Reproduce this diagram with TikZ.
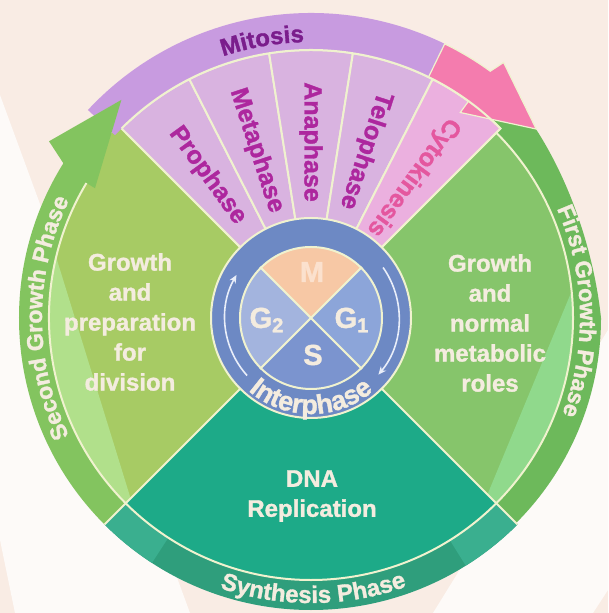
\documentclass[tikz,border=0pt]{standalone}
\usepackage{fontspec}
\setmainfont{Liberation Sans}[BoldFeatures={FakeBold=1.3}]
\usepackage{xcolor}
\usetikzlibrary{decorations.text,arrows.meta}

\definecolor{bgcream}{HTML}{F9ECE4}
\definecolor{bgwhite}{HTML}{FDFAF8}
\definecolor{linecream}{HTML}{F0F2CF}
\definecolor{textcream}{HTML}{F4ECDF}
\definecolor{ringleft}{HTML}{83C45F}
\definecolor{ringright}{HTML}{6DB95B}
\definecolor{synband}{HTML}{2F9E7C}
\definecolor{synlight}{HTML}{3AAF8F}
\definecolor{gtwosec}{HTML}{A7CB64}
\definecolor{gtwolight}{HTML}{B1E08B}
\definecolor{gonesec}{HTML}{86C56B}
\definecolor{gonelight}{HTML}{90D98C}
\definecolor{ssec}{HTML}{1DAA88}
\definecolor{mitband}{HTML}{C89BE0}
\definecolor{mitotext}{HTML}{7A1D8C}
\definecolor{wedgefill}{HTML}{D9B3E0}
\definecolor{cytofill}{HTML}{EBB0DF}
\definecolor{phasetxt}{HTML}{AD279E}
\definecolor{cytotxt}{HTML}{E4579F}
\definecolor{pinkarrow}{HTML}{F47CAE}
\definecolor{interring}{HTML}{6D89C4}
\definecolor{interarrow}{HTML}{E9EEF9}
\definecolor{mfill}{HTML}{F7C8A5}
\definecolor{gonefill}{HTML}{8CA5D9}
\definecolor{gtwofill}{HTML}{A3B4DE}
\definecolor{sfill}{HTML}{7B94CF}

\tikzset{
  sepline/.style={draw=linecream,line width=1pt},
  growtext/.style={text=textcream,align=center,font=\bfseries\fontsize{12}{15}\selectfont},
  phasetext/.style={text=phasetxt,font=\bfseries\fontsize{12.5}{15}\selectfont},
  letter/.style={text=textcream,font=\bfseries\fontsize{14.5}{16}\selectfont},
  cyclearrow/.style={draw=interarrow,line width=0.8pt,-{Stealth[length=4pt,width=3.5pt]}}
}

\begin{document}
\begin{tikzpicture}[x=0.5pt,y=0.5pt]
  \useasboundingbox (-311,-295) rectangle (297,318);
  \fill[bgcream] (-311,-295) rectangle (297,318);
  \fill[bgwhite] (-311,223) -- (-121,-295) -- (-296,-295) -- (-311,-222) -- cycle;
  \fill[bgwhite] (122,-295) -- (297,-12) -- (297,-272) -- (282,-295) -- cycle;

  % the three big sectors
  \fill[gtwosec] (0,0) -- (135:272) arc[start angle=135,end angle=225,radius=272] -- cycle;
  \fill[gonesec] (0,0) -- (-45:262) arc[start angle=-45,end angle=45,radius=262] -- cycle;
  \fill[ssec] (0,0) -- (225:262) arc[start angle=225,end angle=315,radius=262] -- cycle;
  \begin{scope}
    \clip (0,0) -- (135:262) arc[start angle=135,end angle=225,radius=262] -- cycle;
    \fill[gtwolight] (-287,165) -- (-145,-295) -- (-400,-295) -- (-400,165) -- cycle;
  \end{scope}
  \begin{scope}
    \clip (0,0) -- (-45:262) arc[start angle=-45,end angle=45,radius=262] -- cycle;
    \fill[gonelight] (291,100) -- (141,-262) -- (400,-262) -- (400,100) -- cycle;
  \end{scope}

  % outer ring
  \fill[synband] (225:262) arc[start angle=225,end angle=315,radius=262]
    -- (315:292) arc[start angle=315,end angle=225,radius=292] -- cycle;
  \fill[synlight] (225:262) arc[start angle=225,end angle=237,radius=262]
    -- (237:292) arc[start angle=237,end angle=225,radius=292] -- cycle;
  \fill[synlight] (302:262) arc[start angle=302,end angle=315,radius=262]
    -- (315:292) arc[start angle=315,end angle=302,radius=292] -- cycle;
  \fill[ringright] (-45:262) arc[start angle=-45,end angle=52,radius=262]
    -- (52:302) .. controls (35:304) and (15:292) .. (0:290)
    arc[start angle=0,end angle=-45,radius=290] -- cycle;

  % mitosis fan
  \foreach \a/\col in {117/wedgefill,99/wedgefill,81/wedgefill,63/wedgefill,45/cytofill}{
    \filldraw[fill=\col,sepline] (0,0) -- (\a:268) arc[start angle=\a,end angle=\a+18,radius=268] -- cycle;
  }
  \fill[mitband] (137:268) arc[start angle=137,end angle=64,radius=268]
    -- (64:305) arc[start angle=64,end angle=137,radius=305] -- cycle;
  \filldraw[fill=pinkarrow,draw=linecream,line width=0.6pt] (64:268) arc[start angle=64,end angle=54,radius=268]
    -- (54:254) -- (40:294) -- (53:320) -- (54:305)
    arc[start angle=54,end angle=64,radius=305] -- cycle;
  \draw[sepline] (45:268) arc[start angle=45,end angle=135,radius=268];

  % second growth arrow
  \fill[ringleft] (225:262) arc[start angle=225,end angle=149,radius=262]
    -- (149:252) -- (131:289) -- (146:316) -- (148:292)
    arc[start angle=148,end angle=225,radius=292] -- cycle;

  % separating lines
  \draw[sepline] (-45:262) arc[start angle=-45,end angle=45,radius=262];
  \draw[sepline] (149:262) arc[start angle=149,end angle=315,radius=262];
  \foreach \a/\r in {45/268,135/262,225/292,315/292}{
    \draw[sepline] (0,0) -- (\a:\r);
  }

  % interphase disc
  \filldraw[fill=interring,sepline] (0,0) circle (100);
  \filldraw[fill=mfill,sepline] (0,0) -- (45:71) arc[start angle=45,end angle=135,radius=71] -- cycle;
  \filldraw[fill=gtwofill,sepline] (0,0) -- (135:71) arc[start angle=135,end angle=225,radius=71] -- cycle;
  \filldraw[fill=sfill,sepline] (0,0) -- (225:71) arc[start angle=225,end angle=315,radius=71] -- cycle;
  \filldraw[fill=gonefill,sepline] (0,0) -- (-45:71) arc[start angle=-45,end angle=45,radius=71] -- cycle;
  \draw[cyclearrow] (222:86) arc[start angle=222,end angle=150,radius=86];
  \draw[cyclearrow] (35:88) arc[start angle=35,end angle=-40,radius=88];

  \node[letter,text=mfill!55!white] (mlet) at (1,46) {M};
  \node[letter] (gtwolet) at (-44,-2) {G\textsubscript{2}};
  \node[letter] (gonelet) at (41,-2) {G\textsubscript{1}};
  \node[letter] (slet) at (2,-37) {S};

  % texts
  \node[growtext] (gtwotxt) at (-181,-4) {Growth\\and\\preparation\\for\\division};
  \node[growtext] (gonetxt) at (179,-5) {Growth\\and\\normal\\metabolic\\roles};
  \node[growtext] (dnatxt) at (1,-178) {DNA\\Replication};

  \foreach \ang/\nm/\txt in {126/pro/Prophase,108/meta/Metaphase,90/ana/Anaphase,72/telo/Telophase}{
    \node[phasetext,rotate=\ang-180] (\nm) at (\ang:176) {\txt};
  }
  \node[phasetext,text=cytotxt,rotate=-126] (cyto) at (54:174) {Cytokinesis};

  \path[decorate,decoration={text along path,text align=center,text color=mitotext,
    text={|\bfseries\fontsize{12}{14}\selectfont|Mitosis}}]
    (130:276) arc[start angle=130,end angle=70,radius=276];
  \path[decorate,decoration={text along path,text align=center,text color=textcream,
    text={|\bfseries\fontsize{11.5}{14}\selectfont|Second Growth Phase}}]
    (215:269) arc[start angle=215,end angle=145,radius=269];
  \path[decorate,decoration={text along path,text align=center,text color=textcream,
    text={|\bfseries\fontsize{11.5}{14}\selectfont|First Growth Phase}}]
    (30:269) arc[start angle=30,end angle=-27,radius=269];
  \path[decorate,decoration={text along path,text align=center,text color=textcream,
    text={|\bfseries\fontsize{12}{14}\selectfont|Synthesis Phase}}]
    (250:285) arc[start angle=250,end angle=291,radius=285];
  \path[decorate,decoration={text along path,text align=center,text color=textcream,
    text={|\bfseries\fontsize{13.5}{15}\selectfont|Interphase}}]
    (222:96) arc[start angle=222,end angle=318,radius=96];
\end{tikzpicture}
\end{document}
